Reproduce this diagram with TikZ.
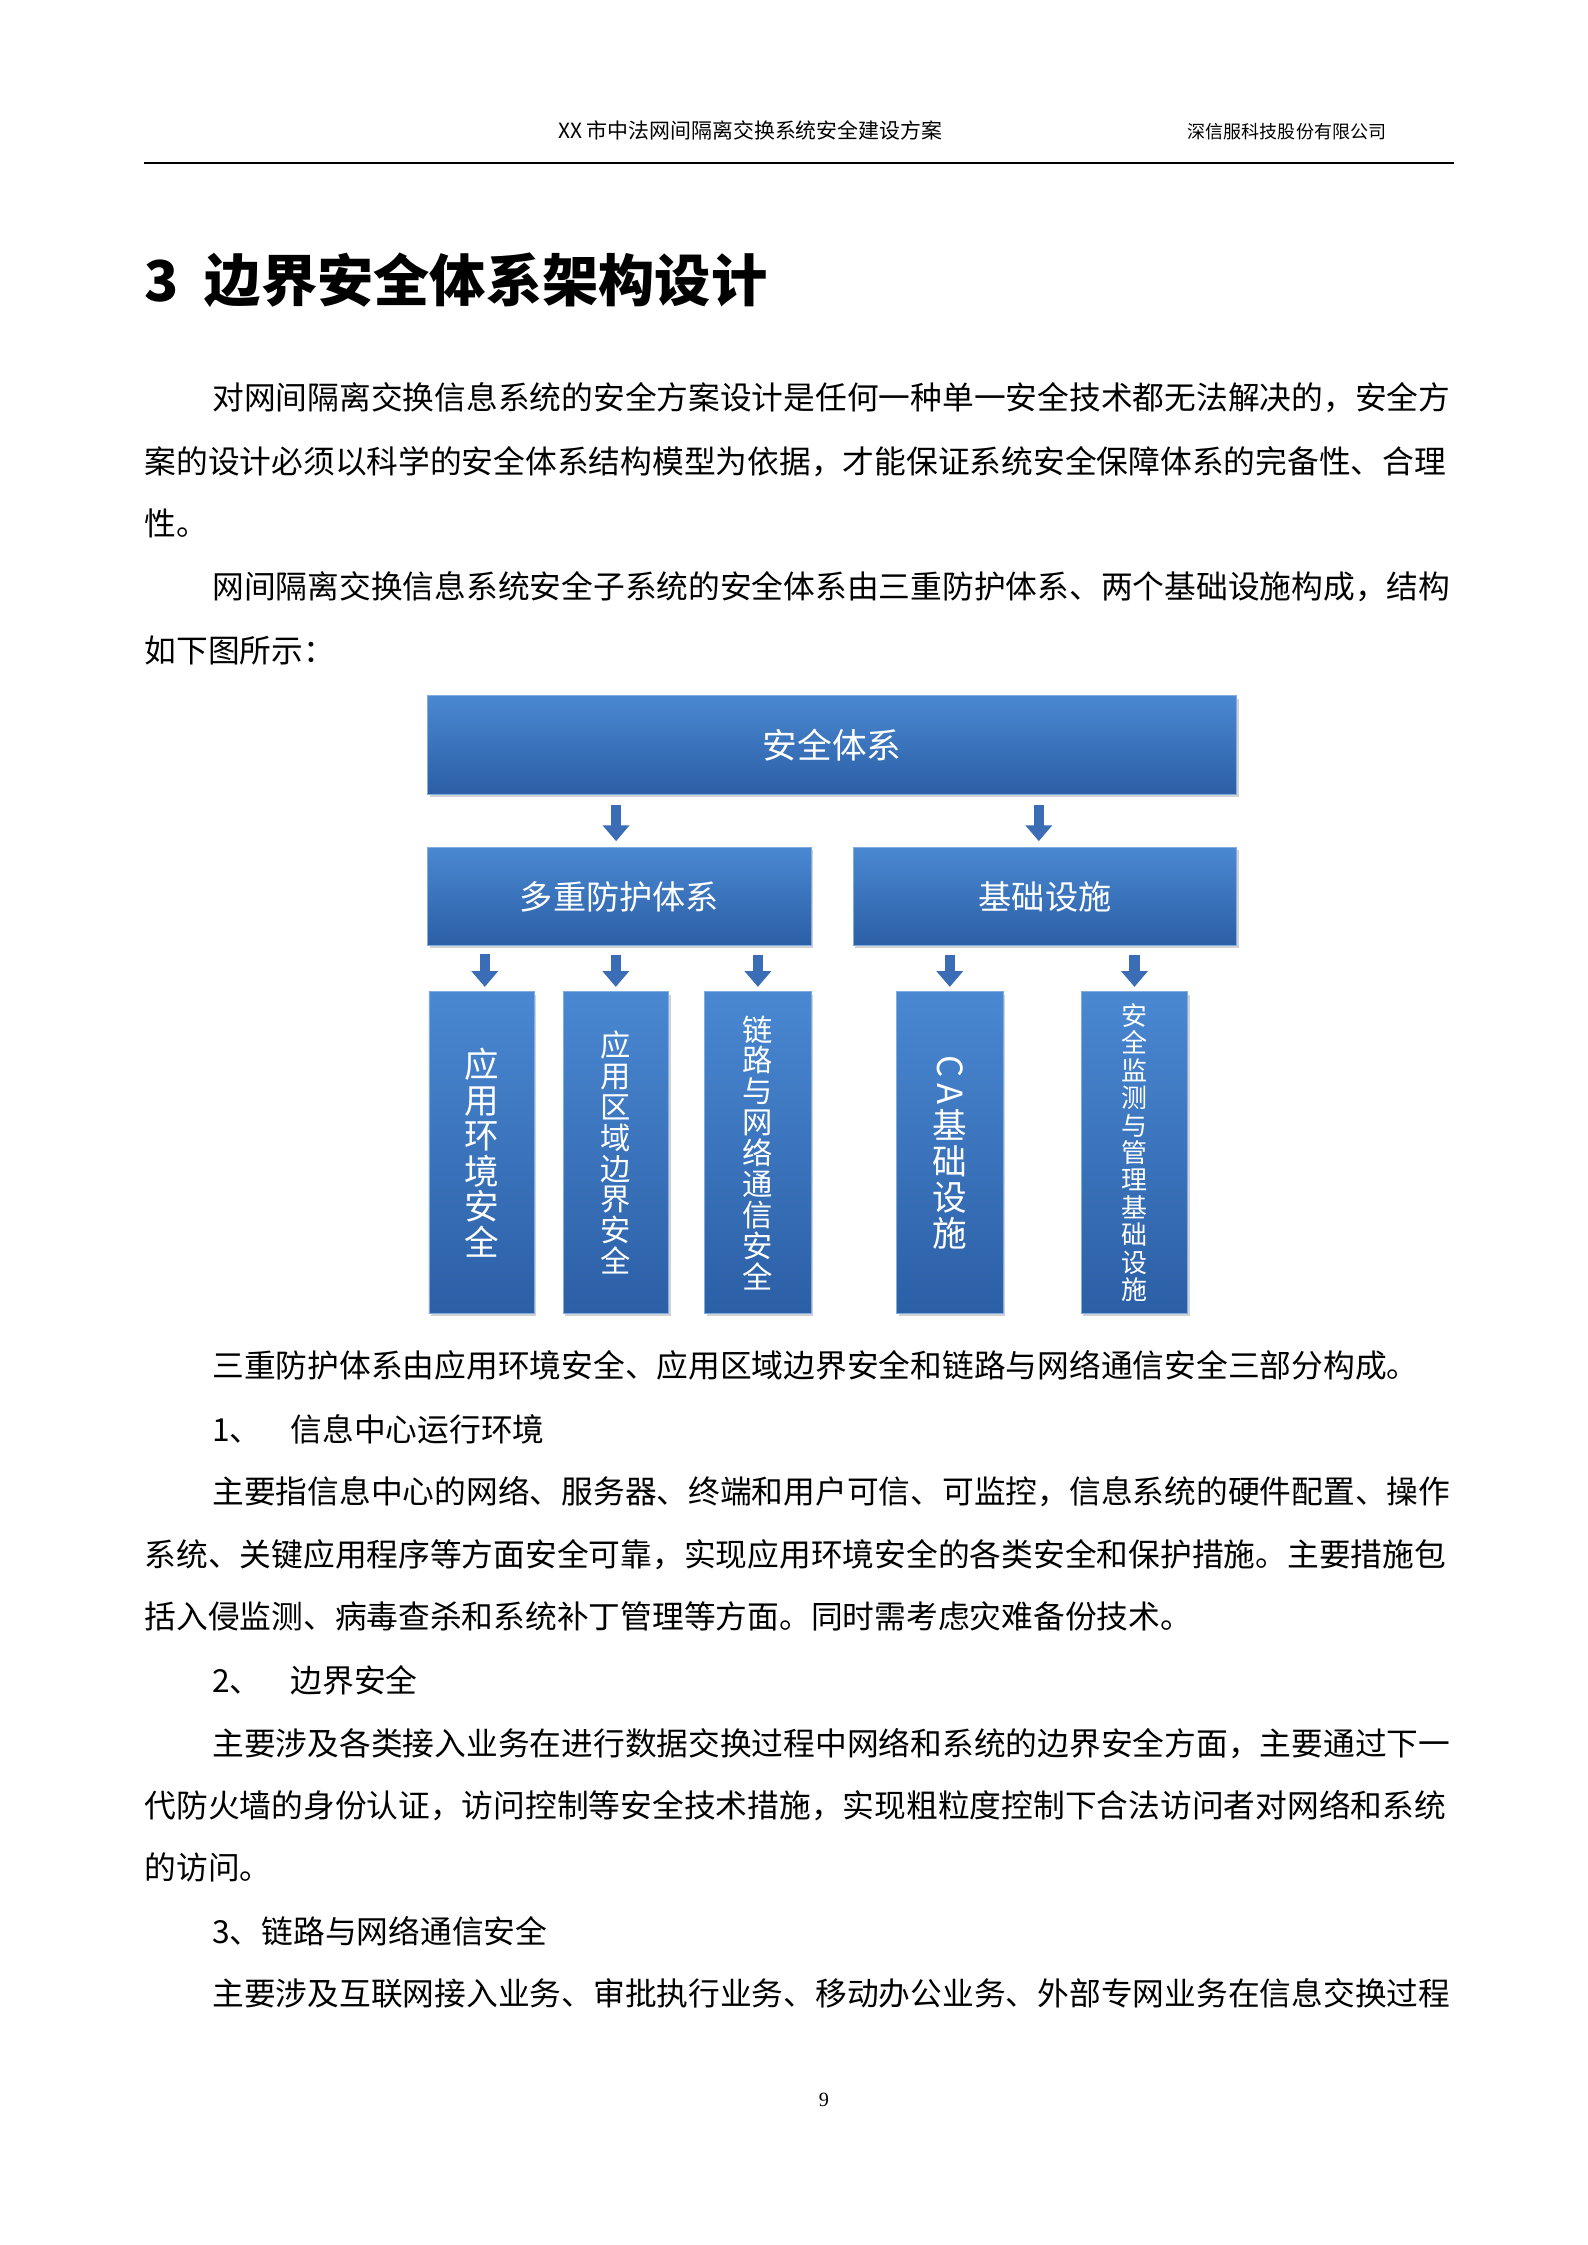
\documentclass[tikz,border=0pt]{standalone}
\usepackage{fontspec}
\setmainfont{Liberation Serif}
\newfontfamily\cjk{Noto Sans CJK SC}
\usetikzlibrary{shadows,arrows.meta}
\definecolor{bluetop}{HTML}{4A88D2}
\definecolor{bluebot}{HTML}{2B5FA6}
\definecolor{arrowblue}{HTML}{3A6DB5}
\tikzset{
  bluebox/.style={draw=bluetop!70!white, line width=0.6pt, top color=bluetop, bottom color=bluebot,
    drop shadow={shadow xshift=1.5pt, shadow yshift=-2pt, fill=black!35}, text=white, inner sep=0pt, anchor=north west},
  vtext/.style={align=center, text=white},
  barrow/.style={draw=arrowblue, line width=7pt, -{Triangle[width=18pt,length=11pt]}},
  body/.style={anchor=base west, inner sep=0pt, font=\cjk\fontsize{22}{22}\selectfont}
}
\begin{document}
\begin{tikzpicture}[x=1pt,y=-1pt]
\useasboundingbox[fill=white] (0,0) rectangle (1100,1556);
% header
\node[anchor=base, inner sep=0pt, font=\cjk\fontsize{14.5}{15}\selectfont] (h1) at (520,96) {XX 市中法网间隔离交换系统安全建设方案};
\node[anchor=base, inner sep=0pt, font=\cjk\fontsize{12.5}{13}\selectfont] (h2) at (892,96) {深信服科技股份有限公司};
\draw[line width=1.4pt] (100,113) -- (1008,113);
% title
\node[anchor=base west, inner sep=0pt, font=\cjk\bfseries\fontsize{39}{39}\selectfont] (title) at (100,209) {3\hspace{18pt}边界安全体系架构设计};
% paragraphs
\node[body] (p1) at (147,284) {对网间隔离交换信息系统的安全方案设计是任何一种单一安全技术都无法解决的，安全方};
\node[body] (p2) at (100,328) {案的设计必须以科学的安全体系结构模型为依据，才能保证系统安全保障体系的完备性、合理};
\node[body] (p3) at (100,371) {性。};
\node[body] (p4) at (147,415) {网间隔离交换信息系统安全子系统的安全体系由三重防护体系、两个基础设施构成，结构};
\node[body] (p5) at (100,459) {如下图所示：};
% diagram
\node[bluebox, minimum width=561pt, minimum height=68pt] (top) at (296,482) {};
\node[text=white, font=\cjk\fontsize{24}{24}\selectfont] (topt) at (top.center) {安全体系};
\node[bluebox, minimum width=266pt, minimum height=68pt] (m1) at (296,587) {};
\node[text=white, font=\cjk\fontsize{23}{23}\selectfont] (m1t) at (m1.center) {多重防护体系};
\node[bluebox, minimum width=266pt, minimum height=68pt] (m2) at (591,587) {};
\node[text=white, font=\cjk\fontsize{23}{23}\selectfont] (m2t) at (m2.center) {基础设施};
\node[bluebox, minimum width=73pt, minimum height=223pt] (b1) at (297,687) {};
\node[bluebox, minimum width=73pt, minimum height=223pt] (b2) at (390,687) {};
\node[bluebox, minimum width=74pt, minimum height=223pt] (b3) at (488,687) {};
\node[bluebox, minimum width=74pt, minimum height=223pt] (b4) at (621,687) {};
\node[bluebox, minimum width=74pt, minimum height=223pt] (b5) at (749,687) {};
\node[vtext, font=\cjk\fontsize{24}{24.6}\selectfont] (t1) at (b1.center) {应\\用\\环\\境\\安\\全};
\node[vtext, font=\cjk\fontsize{21}{21.4}\selectfont] (t2) at (b2.center) {应\\用\\区\\域\\边\\界\\安\\全};
\node[vtext, font=\cjk\fontsize{21}{21.4}\selectfont] (t3) at (b3.center) {链\\路\\与\\网\\络\\通\\信\\安\\全};
\node[vtext, font=\cjk\fontsize{24}{25}\selectfont] (t4) at (b4.center) {\rotatebox{-90}{\cjk C\,A}\\[2pt]基\\础\\设\\施};
\node[vtext, font=\cjk\fontsize{18}{19}\selectfont] (t5) at (b5.center) {安\\全\\监\\测\\与\\管\\理\\基\\础\\设\\施};
% arrows
\coordinate (a1) at (427,558); \coordinate (a2) at (720,558);
\coordinate (a3) at (336,661);
\draw[barrow] (a1) -- ([yshift=4pt]a1 |- m1.north);
\draw[barrow] (a2) -- ([yshift=4pt]a2 |- m2.north);
\draw[barrow] (a3) -- ([yshift=3pt]a3 |- b1.north);
\draw[barrow] ([yshift=-6pt]m1.south -| b2.north) -- ([yshift=3pt]b2.north);
\draw[barrow] ([yshift=-6pt]m1.south -| b3.north) -- ([yshift=3pt]b3.north);
\draw[barrow] ([yshift=-6pt]m2.south -| b4.north) -- ([yshift=3pt]b4.north);
\draw[barrow] ([yshift=-6pt]m2.south -| b5.north) -- ([yshift=3pt]b5.north);
% lower text
\node[body] (q1) at (147,955) {三重防护体系由应用环境安全、应用区域边界安全和链路与网络通信安全三部分构成。};
\node[body] (q2) at (147,999) {1、\hspace{20pt}信息中心运行环境};
\node[body] (q3) at (147,1042) {主要指信息中心的网络、服务器、终端和用户可信、可监控，信息系统的硬件配置、操作};
\node[body] (q4) at (100,1086) {系统、关键应用程序等方面安全可靠，实现应用环境安全的各类安全和保护措施。主要措施包};
\node[body] (q5) at (100,1129) {括入侵监测、病毒查杀和系统补丁管理等方面。同时需考虑灾难备份技术。};
\node[body] (q6) at (147,1173) {2、\hspace{20pt}边界安全};
\node[body] (q7) at (147,1217) {主要涉及各类接入业务在进行数据交换过程中网络和系统的边界安全方面，主要通过下一};
\node[body] (q8) at (100,1260) {代防火墙的身份认证，访问控制等安全技术措施，实现粗粒度控制下合法访问者对网络和系统};
\node[body] (q9) at (100,1303) {的访问。};
\node[body] (q10) at (147,1347) {3、链路与网络通信安全};
\node[body] (q11) at (147,1390) {主要涉及互联网接入业务、审批执行业务、移动办公业务、外部专网业务在信息交换过程};
\node[anchor=base, inner sep=0pt, font=\fontsize{14}{14}\selectfont] (pg) at (571,1460) {9};
\end{tikzpicture}
\end{document}
